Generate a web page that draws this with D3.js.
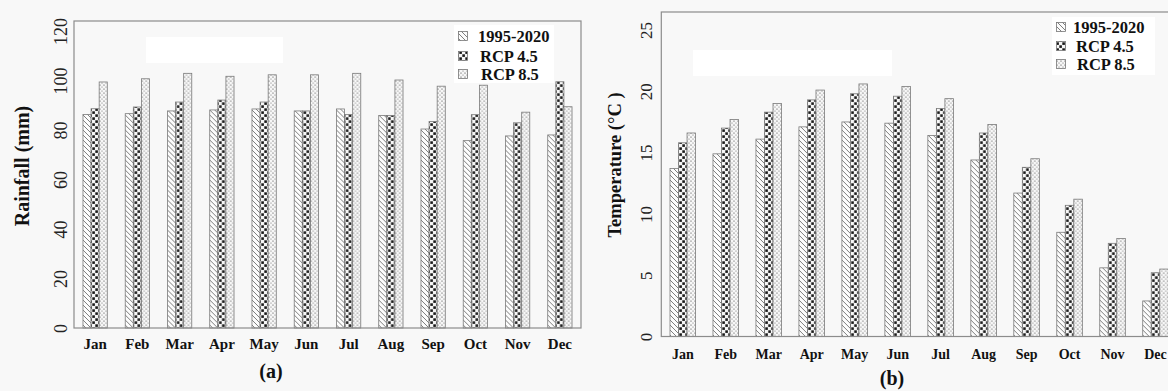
<!DOCTYPE html>
<html>
<head>
<meta charset="utf-8">
<script src="https://cdn.jsdelivr.net/npm/d3@7/dist/d3.min.js"></script>
<style>
  html, body { margin: 0; padding: 0; background: #f8f8f8; }
  svg { display: block; }
  text { font-family: "Liberation Serif", "Times New Roman", serif; fill: #111; }
</style>
</head>
<body>
<svg id="fig" width="1168" height="391"></svg>
<script>
// Monthly categories and series
const months = ["Jan", "Feb", "Mar", "Apr", "May", "Jun", "Jul", "Aug", "Sep", "Oct", "Nov", "Dec"];
const seriesNames = ["1995-2020", "RCP 4.5", "RCP 8.5"];

// Rainfall (mm)
const rainBaseline = [86.3, 86.6, 87.7, 88.1, 88.5, 87.7, 88.5, 85.9, 80.4, 75.7, 77.6, 78.0];
const rainRcp45    = [88.6, 89.3, 91.3, 92.1, 91.3, 87.7, 86.3, 85.9, 83.4, 86.2, 82.9, 99.5];
const rainRcp85    = [99.4, 100.7, 102.9, 101.7, 102.3, 102.3, 102.9, 100.2, 97.7, 98.1, 87.2, 89.4];
const rainTicks    = [0, 20, 40, 60, 80, 100, 120];

// Temperature (°C)
const tempBaseline = [13.7, 14.9, 16.1, 17.1, 17.5, 17.4, 16.4, 14.4, 11.7, 8.5, 5.6, 2.9];
const tempRcp45    = [15.8, 17.0, 18.3, 19.3, 19.8, 19.6, 18.6, 16.6, 13.8, 10.7, 7.6, 5.2];
const tempRcp85    = [16.6, 17.7, 19.0, 20.1, 20.6, 20.4, 19.4, 17.3, 14.5, 11.2, 8.0, 5.5];
const tempTicks    = [0, 5, 10, 15, 20, 25];

const svg = d3.select("#fig");
const defs = svg.append("defs");

// Fill patterns: hatch, checker, dots
const pHist = defs.append("pattern").attr("id", "p0")
  .attr("patternUnits", "userSpaceOnUse").attr("width", 5).attr("height", 5);
pHist.append("rect").attr("width", 5).attr("height", 5).attr("fill", "#fcfcfc");
pHist.append("path").attr("d", "M0,0L5,5M-1,4L1,6M4,-1L6,1")
  .attr("stroke", "#5e5e5e").attr("stroke-width", 0.8);

const pR45 = defs.append("pattern").attr("id", "p1")
  .attr("patternUnits", "userSpaceOnUse").attr("width", 6).attr("height", 6);
pR45.append("rect").attr("width", 6).attr("height", 6).attr("fill", "#f6f6f6");
pR45.append("rect").attr("x", 0.3).attr("y", 0.3).attr("width", 2.6).attr("height", 2.6).attr("fill", "#181818");
pR45.append("rect").attr("x", 3.3).attr("y", 3.3).attr("width", 2.6).attr("height", 2.6).attr("fill", "#181818");

const pR85 = defs.append("pattern").attr("id", "p2")
  .attr("patternUnits", "userSpaceOnUse").attr("width", 4).attr("height", 4);
pR85.append("rect").attr("width", 4).attr("height", 4).attr("fill", "#f7f7f7");
pR85.append("circle").attr("cx", 1).attr("cy", 1).attr("r", 0.6).attr("fill", "#333");
pR85.append("circle").attr("cx", 3).attr("cy", 3).attr("r", 0.55).attr("fill", "#666");

const fills = ["url(#p0)", "url(#p1)", "url(#p2)"];

function drawPanel(cfg) {
  const g = svg.append("g");
  const data = months.map((m, i) => ({ month: m, values: cfg.series.map(s => s[i]) }));

  const x = d3.scaleBand().domain(months).range([cfg.left, cfg.right]).padding(0);
  const y = d3.scaleLinear().domain(cfg.domain).range([cfg.bottom, cfg.yTop]);
  const groupW = x.bandwidth() * cfg.groupFrac;
  const x1 = d3.scaleBand().domain(d3.range(seriesNames.length)).range([0, groupW]).padding(0);

  // light patches behind plot text areas
  cfg.patches.forEach(p => g.append("rect").attr("x", p[0]).attr("y", p[1])
    .attr("width", p[2]).attr("height", p[3]).attr("fill", "#ffffff"));

  // bars
  const grp = g.append("g").selectAll("g").data(data).join("g")
    .attr("transform", d => `translate(${x(d.month) + (x.bandwidth() - groupW) / 2},0)`);
  grp.selectAll("rect").data(d => d.values.map((v, k) => ({ v, k }))).join("rect")
    .attr("x", d => x1(d.k))
    .attr("width", x1.bandwidth())
    .attr("y", d => y(d.v))
    .attr("height", d => y(cfg.domain[0]) - y(d.v))
    .attr("fill", d => fills[d.k])
    .attr("stroke", "#7a7a7a")
    .attr("stroke-width", 0.8);

  // frame
  g.append("rect").attr("x", cfg.left).attr("y", cfg.frameTop)
    .attr("width", cfg.right - cfg.left).attr("height", cfg.bottom - cfg.frameTop)
    .attr("fill", "none").attr("stroke", "#8c8c8c").attr("stroke-width", 1.2);

  // y axis labels (rotated)
  const ya = g.append("g").attr("transform", `translate(${cfg.left},0)`)
    .call(d3.axisLeft(y).tickValues(cfg.ticks).tickSize(0).tickPadding(0));
  ya.select(".domain").remove();
  ya.selectAll("text")
    .attr("x", null).attr("dy", null)
    .attr("transform", `translate(${cfg.tickOffset},0) rotate(-90)`)
    .attr("text-anchor", "middle")
    .style("font-family", "'Liberation Serif', serif")
    .style("font-size", cfg.tickSize + "px")
    .style("fill", "#222");

  // x axis labels
  const xa = g.append("g").attr("transform", `translate(0,${cfg.bottom})`)
    .call(d3.axisBottom(x).tickSize(0).tickPadding(0));
  xa.select(".domain").remove();
  xa.selectAll("text")
    .attr("y", cfg.xLabelOffset).attr("dy", null)
    .style("font-family", "'Liberation Serif', serif")
    .style("font-weight", "bold")
    .style("font-size", cfg.xSize + "px")
    .style("fill", "#111");

  // y axis title
  g.append("text")
    .attr("transform", `translate(${cfg.titleX},${cfg.titleY}) rotate(-90)`)
    .attr("text-anchor", "middle")
    .style("font-weight", "bold")
    .style("font-size", cfg.titleSize + "px")
    .text(cfg.title);

  // panel tag
  g.append("text").attr("x", cfg.tag[0]).attr("y", cfg.tag[1])
    .attr("text-anchor", "middle")
    .style("font-weight", "bold").style("font-size", "20px")
    .text(cfg.tagText);

  // legend
  const lg = g.append("g");
  lg.append("rect").attr("x", cfg.legendBox[0]).attr("y", cfg.legendBox[1])
    .attr("width", cfg.legendBox[2]).attr("height", cfg.legendBox[3]).attr("fill", "#ffffff");
  seriesNames.forEach((name, k) => {
    const cy = cfg.legendRows[k];
    lg.append("rect").attr("x", cfg.legendIconX - 4.5).attr("y", cy - 4.5)
      .attr("width", 9).attr("height", 9)
      .attr("fill", fills[k]).attr("stroke", "#777").attr("stroke-width", 0.8);
    lg.append("text").attr("x", cfg.legendTextX[k]).attr("y", cy + 5.5)
      .style("font-weight", "bold").style("font-size", "16.5px")
      .text(name);
  });
}

drawPanel({
  series: [rainBaseline, rainRcp45, rainRcp85],
  domain: [0, 120], ticks: rainTicks,
  left: 74, right: 581, bottom: 328, yTop: 31, frameTop: 21,
  groupFrac: 0.575,
  tickOffset: -7, tickSize: 18,
  xLabelOffset: 20.5, xSize: 15,
  title: "Rainfall (mm)", titleX: 29, titleY: 166, titleSize: 20,
  tag: [271, 378], tagText: "(a)",
  patches: [[146, 37, 137, 26]],
  legendBox: [454, 25, 100, 58],
  legendIconX: 463, legendTextX: [478, 480, 481], legendRows: [36, 56, 74]
});

drawPanel({
  series: [tempBaseline, tempRcp45, tempRcp85],
  domain: [0, 25], ticks: tempTicks,
  left: 661.3, right: 1177, bottom: 336.5, yTop: 30, frameTop: 12,
  groupFrac: 0.595,
  tickOffset: -9, tickSize: 17,
  xLabelOffset: 22.5, xSize: 14,
  title: "Temperature (°C )", titleX: 621, titleY: 165, titleSize: 18.5,
  tag: [892, 385], tagText: "(b)",
  patches: [[693, 50, 199, 26]],
  legendBox: [1052, 17, 103, 58],
  legendIconX: 1061, legendTextX: [1073, 1076, 1077], legendRows: [27, 46, 64]
});
</script>
</body>
</html>
